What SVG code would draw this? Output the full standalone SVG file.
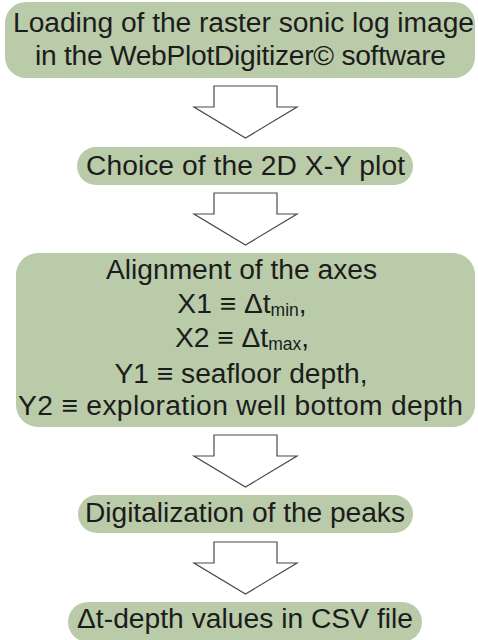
<svg xmlns="http://www.w3.org/2000/svg" width="478" height="640" viewBox="0 0 478 640">
<defs>
<style>
.box{fill:#b9cba8;}
.t{font-family:"Liberation Sans",Arial,"DejaVu Sans",sans-serif;font-size:28.2px;fill:#1c1c1c;text-anchor:middle;}
.sub{font-size:17.5px;}
.arr{fill:#ffffff;stroke:#4a4a4a;stroke-width:1.2;stroke-linejoin:miter;}
</style>
<path id="arrowShape" d="M214,0 H277 V21 H297 L245.5,52 L194,21 H214 Z"/>
</defs>
<rect width="478" height="640" fill="#ffffff"/>
<g id="connectors">
<use href="#arrowShape" class="arr" transform="translate(0,86)"/>
<use href="#arrowShape" class="arr" transform="translate(0,193)"/>
<use href="#arrowShape" class="arr" transform="translate(0,435)"/>
<use href="#arrowShape" class="arr" transform="translate(0,542)"/>
</g>
<g id="node1">
<rect class="box" x="5" y="2" width="470" height="76" rx="21" ry="21"/>
<text class="t" x="243.5" y="32" textLength="461">Loading of the raster sonic log image</text>
<text class="t" x="240.5" y="65" textLength="411">in the WebPlotDigitizer© software</text>
</g>
<g id="node2">
<rect class="box" x="77" y="147" width="336" height="38" rx="19" ry="19"/>
<text class="t" x="245.5" y="175" textLength="319">Choice of the 2D X-Y plot</text>
</g>
<g id="node3">
<rect class="box" x="16" y="253" width="459" height="174" rx="22" ry="22"/>
<text class="t" x="241.5" y="279" textLength="271">Alignment of the axes</text>
<text class="t" x="242" y="313">X1 ≡ Δt<tspan class="sub" dy="3">min</tspan><tspan dy="-3">,</tspan></text>
<text class="t" x="242" y="347">X2 ≡ Δt<tspan class="sub" dy="3">max</tspan><tspan dy="-3">,</tspan></text>
<text class="t" x="241" y="383">Y1 ≡ seafloor depth,</text>
<text class="t" x="240.5" y="415" textLength="445">Y2 ≡ exploration well bottom depth</text>
</g>
<g id="node4">
<rect class="box" x="78" y="495" width="335" height="38" rx="19" ry="19"/>
<text class="t" x="245" y="522" textLength="320">Digitalization of the peaks</text>
</g>
<g id="node5">
<rect class="box" x="68" y="602" width="354" height="40" rx="20" ry="20"/>
<text class="t" x="245" y="628" textLength="336">Δt-depth values in CSV file</text>
</g>
</svg>
